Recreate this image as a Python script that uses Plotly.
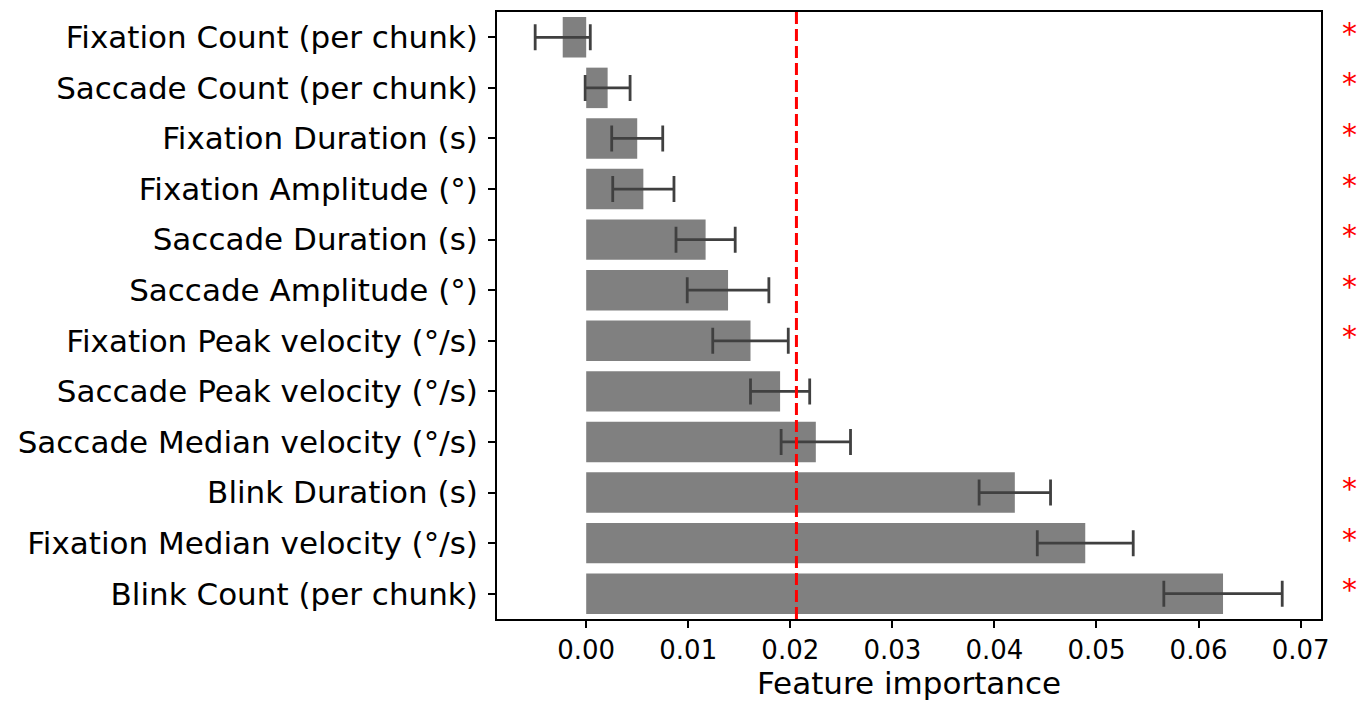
import plotly.graph_objects as go

features = [
    "Fixation Count (per chunk)",
    "Saccade Count (per chunk)",
    "Fixation Duration (s)",
    "Fixation Amplitude (°)",
    "Saccade Duration (s)",
    "Saccade Amplitude (°)",
    "Fixation Peak velocity (°/s)",
    "Saccade Peak velocity (°/s)",
    "Saccade Median velocity (°/s)",
    "Blink Duration (s)",
    "Fixation Median velocity (°/s)",
    "Blink Count (per chunk)",
]
importance = [-0.0023, 0.0021, 0.0050, 0.0056, 0.0117, 0.0139, 0.0161, 0.0190, 0.0225, 0.0420, 0.0489, 0.0624]
error = [0.0027, 0.0022, 0.0025, 0.0030, 0.0029, 0.0040, 0.0037, 0.0029, 0.0034, 0.0035, 0.0047, 0.0058]
significant = [True, True, True, True, True, True, True, False, False, True, True, True]
threshold = 0.0206
x_ticks = [0.00, 0.01, 0.02, 0.03, 0.04, 0.05, 0.06, 0.07]

fig = go.Figure()
fig.add_trace(go.Bar(
    x=importance, y=features, orientation="h",
    marker=dict(color="#808080", line=dict(width=0)),
    width=0.8,
    error_x=dict(type="data", array=error, color="#404040", thickness=2.8, width=13),
    showlegend=False,
))

fig.add_shape(type="line", xref="x", yref="paper", x0=threshold, x1=threshold, y0=0, y1=1,
              line=dict(color="#ff0000", width=3, dash="12px,5px"), layer="above")

for f, s in zip(features, significant):
    if s:
        fig.add_annotation(xref="paper", yref="y", x=1.034, y=f, text="*", showarrow=False,
                           font=dict(family="DejaVu Sans", size=30, color="#ff0000"),
                           xanchor="center", yanchor="middle", yshift=4)

fig.update_layout(
    width=1367, height=702,
    margin=dict(l=489, r=54, t=4, b=91, autoexpand=False),
    plot_bgcolor="white", paper_bgcolor="white",
    font=dict(family="DejaVu Sans", color="black"),
    bargap=0.2,
)
fig.update_xaxes(
    range=[-0.00874, 0.0720], tickvals=x_ticks, ticktext=[f"{v:.2f}" for v in x_ticks],
    ticks="outside", ticklen=7, tickwidth=1.5, tickcolor="black",
    tickfont=dict(size=26, family="DejaVu Sans"),
    showline=True, linecolor="black", linewidth=1.8, mirror=True,
    showgrid=False, zeroline=False, automargin=False,
    title=dict(text="Feature importance", font=dict(size=31, family="DejaVu Sans"), standoff=8),
)
fig.update_yaxes(
    autorange="reversed", type="category",
    ticks="outside", ticklen=7, tickwidth=1.5, tickcolor="black",
    tickfont=dict(size=31, family="DejaVu Sans"), ticklabelstandoff=4,
    showline=True, linecolor="black", linewidth=1.8, mirror=True,
    showgrid=False, zeroline=False, automargin=False,
)

fig.write_html("out.html")
